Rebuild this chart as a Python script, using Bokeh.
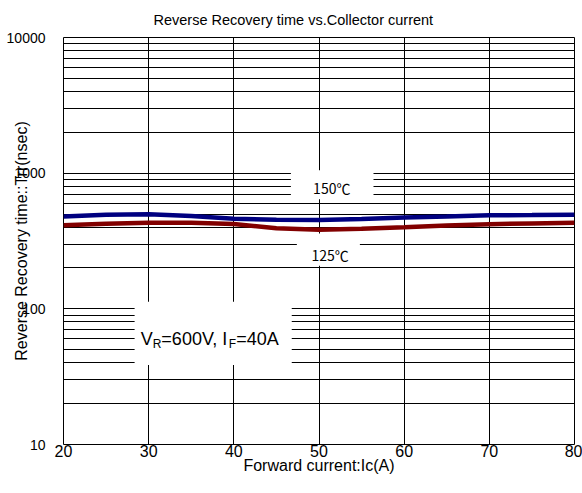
from bokeh.plotting import figure
from bokeh.models import (Range1d, FixedTicker, BasicTickFormatter, BoxAnnotation, Label)
from bokeh.embed import file_html
from bokeh.resources import INLINE

# ---- data ----
current_a = [20, 25, 30, 35, 40, 45, 50, 55, 60, 65, 70, 75, 80]
trr_150c = [479, 494, 497, 483, 462, 454, 451, 459, 472, 480, 489, 491, 494]
trr_125c = [414, 424, 431, 431, 422, 393, 382, 389, 399, 412, 421, 426, 431]

x_ticks = [20, 30, 40, 50, 60, 70, 80]
y_major = [10, 100, 1000, 10000]
y_minor = [m * d for d in (10, 100, 1000) for m in range(2, 10)]

title_text = "Reverse Recovery time vs.Collector current"
x_label = "Forward current:Ic(A)"
y_label = "Reverse Recovery time::Trr(nsec)"

FONT = "Liberation Sans"
FONT_DEG = "Noto Sans CJK SC"

p = figure(width=582, height=493, output_backend="svg", toolbar_location=None,
           y_axis_type="log",
           x_range=Range1d(20, 80), y_range=Range1d(10, 10000),
           min_border_left=63, min_border_right=8, min_border_top=37, min_border_bottom=49)

p.title.text = title_text
p.title.align = "left"
p.title.offset = 90
p.title.vertical_align = "middle"
p.title.text_font = FONT
p.title.text_font_size = "14.5px"
p.title.text_font_style = "normal"
p.title.text_color = "black"
p.title.standoff = 18

p.background_fill_color = "white"
p.border_fill_color = "white"
p.outline_line_color = "black"
p.outline_line_width = 1

p.xaxis.ticker = FixedTicker(ticks=x_ticks)
p.yaxis.ticker = FixedTicker(ticks=y_major, minor_ticks=y_minor)
p.yaxis.formatter = BasicTickFormatter(use_scientific=False)

for ax in (p.xaxis[0], p.yaxis[0]):
    ax.axis_line_color = None
    ax.major_tick_line_color = None
    ax.minor_tick_line_color = None
    ax.major_label_text_font = FONT
    ax.major_label_text_color = "black"
    ax.axis_label_text_font = FONT
    ax.axis_label_text_font_size = "16px"
    ax.axis_label_text_font_style = "normal"
    ax.axis_label_text_color = "black"

p.xaxis.major_label_text_font_size = "16px"
p.yaxis.major_label_text_font_size = "14px"
p.xaxis.axis_label = x_label
p.xaxis.major_label_standoff = -6
p.xaxis.axis_label_standoff = -3
p.yaxis.axis_label = y_label
p.yaxis.major_label_standoff = 12
p.yaxis.axis_label_standoff = -26

p.xgrid.grid_line_color = "black"
p.xgrid.grid_line_alpha = 1
p.ygrid.grid_line_color = "black"
p.ygrid.grid_line_alpha = 1
p.ygrid.minor_grid_line_color = "black"
p.ygrid.minor_grid_line_alpha = 1

p.line(current_a, trr_150c, line_color="#000080", line_width=4.5)
p.line(current_a, trr_125c, line_color="#820000", line_width=4.5)

# white boxes behind the annotations
box_150 = dict(left=46.7, right=56.4, bottom=641, top=1052)
box_125 = dict(left=47.4, right=54.8, bottom=208, top=359)
box_cond = dict(left=28.35, right=46.8, bottom=38.5, top=112.7)
for b in (box_150, box_125, box_cond):
    p.add_layout(BoxAnnotation(fill_color="white", fill_alpha=1, line_color=None, level="overlay", **b))

lab_kw = dict(text_font=FONT_DEG, text_font_size="14px", text_color="black",
              text_align="center", text_baseline="middle", level="overlay")
p.add_layout(Label(x=51.5, y=774, text="150℃", **lab_kw))
p.add_layout(Label(x=51.3, y=251, text="125℃", **lab_kw))

# condition text with subscripts
cond_x, cond_y = 29.06, 60
big = dict(text_font=FONT, text_font_size="18px", text_color="black",
           text_align="left", text_baseline="middle", level="overlay")
small = dict(text_font=FONT, text_font_size="12px", text_color="black",
             text_align="left", text_baseline="middle", level="overlay")
p.add_layout(Label(x=cond_x, y=cond_y, text="V", x_offset=0, **big))
p.add_layout(Label(x=cond_x, y=cond_y, text="R", x_offset=12, y_offset=-5, **small))
p.add_layout(Label(x=cond_x, y=cond_y, text="=600V, I", x_offset=20.7, **big))
p.add_layout(Label(x=cond_x, y=cond_y, text="F", x_offset=88.2, y_offset=-5, **small))
p.add_layout(Label(x=cond_x, y=cond_y, text="=40A", x_offset=95.5, **big))

open("out.html", "w").write(file_html(p, INLINE))
